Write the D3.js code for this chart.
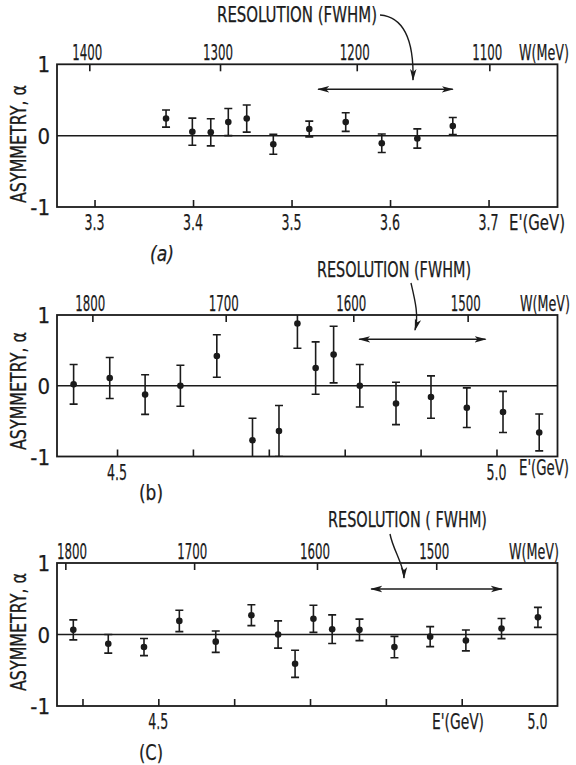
<!DOCTYPE html>
<html>
<head>
<meta charset="utf-8">
<script src="https://cdn.jsdelivr.net/npm/d3@7"></script>
<style>
  body { margin: 0; background: #fff; }
  text { font-family: "Liberation Sans Narrow", "DejaVu Sans Condensed", "Arial Narrow", sans-serif; fill: #1b1b1b; stroke: #1b1b1b; stroke-width: 0.25; }
</style>
</head>
<body>
<div id="graph"></div>
<script>
// Panel (a) : E' (GeV), asymetrie alpha et erreur
var eA = [3.3726, 3.3993, 3.418, 3.4358, 3.4545, 3.4815, 3.518, 3.555, 3.5916, 3.6277, 3.6637];
var alphaA = [0.24, 0.055, 0.046, 0.19, 0.24, -0.12, 0.093, 0.19, -0.107, -0.04, 0.135];
var errA = [0.12, 0.19, 0.19, 0.19, 0.19, 0.14, 0.11, 0.13, 0.13, 0.135, 0.12];
var eTicksA = [3.3, 3.4, 3.5, 3.6, 3.7];
var eLabelsA = [3.3, 3.4, 3.5, 3.6, 3.7];
var wLabelsA = ["1400", "1300", "1200", "1100"];
var wTickEA = [3.2947, 3.4274, 3.5662, 3.7008];   // E' correspondant a chaque W
var resA = [3.527, 3.6637];

// Panel (b)
var eB = [4.4428, 4.4904, 4.537, 4.5835, 4.6315, 4.6785, 4.7134, 4.7377, 4.7617, 4.7854, 4.8199, 4.8676, 4.9137, 4.9609, 5.0086, 5.0563];
var alphaB = [0.02, 0.11, -0.125, 0.0, 0.42, -0.77, -0.64, 0.88, 0.25, 0.44, 0.0, -0.25, -0.16, -0.31, -0.37, -0.66];
var errB = [0.28, 0.29, 0.28, 0.29, 0.3, 0.31, 0.36, 0.35, 0.37, 0.4, 0.3, 0.3, 0.3, 0.28, 0.29, 0.26];
var eTicksB = [4.5, 4.6, 4.7, 4.8, 4.9, 5.0];
var eLabelsB = [4.5, 5.0];
var wLabelsB = ["1800", "1700", "1600", "1500"];
var wTickEB = [4.4675, 4.6432, 4.8113, 4.962];
var resB = [4.8191, 4.9856];

// Panel (c)
var eC = [4.3879, 4.434, 4.4811, 4.5277, 4.5757, 4.6227, 4.6579, 4.6803, 4.7045, 4.7292, 4.7652, 4.8113, 4.8584, 4.9055, 4.9525, 5.0005];
var alphaC = [0.065, -0.13, -0.175, 0.19, -0.10, 0.27, 0.0, -0.41, 0.22, 0.074, 0.065, -0.176, -0.03, -0.083, 0.083, 0.24];
var errC = [0.14, 0.13, 0.12, 0.15, 0.15, 0.146, 0.19, 0.19, 0.19, 0.2, 0.15, 0.15, 0.14, 0.146, 0.14, 0.14];
var eTicksC = [4.4, 4.5, 4.6, 4.7, 4.8, 4.9];
var eLabelsC = [4.5, 5.0];
var wLabelsC = ["1800", "1700", "1600", "1500"];
var wTickEC = [4.3774, 4.5472, 4.7092, 4.8664];
var resC = [4.7806, 4.9530];

var alphaTicks = [1, 0, -1];

// Mise en page
var largeur = 576, hauteur = 765;
var gauche = 57, droite = 557.5;

var panneaux = [
  { haut: 64.3, bas: 207, dom: [3.2619, 3.770], e: eA, alpha: alphaA, err: errA,
    eTicks: eTicksA, eLabels: eLabelsA, wLabels: wLabelsA, wTickE: wTickEA,
    res: resA, resAlpha: 0.65, texteRes: "RESOLUTION (FWHM)", resX: 217, resY: 22, resW: 160,
    pointeur: "M380,15 C404,17 414,40 413,80", nomX: 162, nomY: 261, nom: "(a)", nomItal: true,
    wNomX: 519, eNomX: 509, eNomY: 230, eNomW: 56, titreY: 144 },
  { haut: 315, bas: 456.5, dom: [4.4209, 5.0804], e: eB, alpha: alphaB, err: errB,
    eTicks: eTicksB, eLabels: eLabelsB, wLabels: wLabelsB, wTickE: wTickEB,
    res: resB, resAlpha: 0.656, texteRes: "RESOLUTION (FWHM)", resX: 317, resY: 277, resW: 154,
    pointeur: "M411,283 C415,300 419,316 415,330", nomX: 151, nomY: 500, nom: "(b)", nomItal: false,
    wNomX: 520, eNomX: 519, eNomY: 475, eNomW: 50, titreY: 391 },
  { haut: 563, bas: 706, dom: [4.3664, 5.0263], e: eC, alpha: alphaC, err: errC,
    eTicks: eTicksC, eLabels: eLabelsC, wLabels: wLabelsC, wTickE: wTickEC,
    res: resC, resAlpha: 0.636, texteRes: "RESOLUTION ( FWHM)", resX: 328, resY: 527, resW: 159,
    pointeur: "M390,534 C393,550 404,565 404,578", nomX: 151, nomY: 760, nom: "(C)", nomItal: false,
    wNomX: 509, eNomX: 432, eNomY: 729, eNomW: 52, titreY: 632 }
];

var svg = d3.select("#graph").append("svg")
    .attr("width", largeur)
    .attr("height", hauteur)
    .style("background", "#fff");

// fleches
var defs = svg.append("defs");
defs.append("marker")
    .attr("id", "fleche")
    .attr("viewBox", "0 -4 12 8")
    .attr("refX", 11).attr("refY", 0)
    .attr("markerWidth", 12).attr("markerHeight", 8)
    .attr("markerUnits", "userSpaceOnUse")
    .attr("orient", "auto-start-reverse")
  .append("path")
    .attr("d", "M0,-3.2L12,0L0,3.2L3,0Z")
    .attr("fill", "#1b1b1b");

// largeur imposee (police tres condensee de l'original)
function largeurFixe(sel, w) {
  sel.attr("textLength", w).attr("lengthAdjust", "spacingAndGlyphs");
}

panneaux.forEach(function(p, i) {
  var x = d3.scaleLinear().domain(p.dom).range([gauche, droite]);
  var y = d3.scaleLinear().domain([-1, 1]).range([p.bas, p.haut]);
  var g = svg.append("g");

  defs.append("clipPath").attr("id", "clip" + i)
    .append("rect")
    .attr("x", gauche).attr("y", p.haut)
    .attr("width", droite - gauche).attr("height", p.bas - p.haut);

  // axe du bas (E') : graduations vers l'interieur
  g.append("g")
      .attr("transform", "translate(0," + p.bas + ")")
      .call(d3.axisBottom(x).tickValues(p.eTicks).tickSizeInner(-7).tickSizeOuter(0).tickFormat(""))
      .call(function(a) { a.select(".domain").remove(); })
      .selectAll("line").attr("stroke", "#1b1b1b").attr("stroke-width", 1.6);

  // axe du haut (W)
  g.append("g")
      .attr("transform", "translate(0," + p.haut + ")")
      .call(d3.axisTop(x).tickValues(p.wTickE).tickSizeInner(-7).tickSizeOuter(0).tickFormat(""))
      .call(function(a) { a.select(".domain").remove(); })
      .selectAll("line").attr("stroke", "#1b1b1b").attr("stroke-width", 1.6);

  // axe gauche (alpha) : etiquettes seulement
  g.selectAll(".alab")
    .data(alphaTicks)
    .enter().append("text")
    .attr("x", 50)
    .attr("y", function(d) { return y(d) + 8; })
    .attr("text-anchor", "end")
    .attr("font-size", 22)
    .text(function(d) { return d < 0 ? "-" + Math.abs(d) : d; });

  // cadre
  g.append("rect")
    .attr("x", gauche).attr("y", p.haut)
    .attr("width", droite - gauche).attr("height", p.bas - p.haut)
    .attr("fill", "none").attr("stroke", "#1b1b1b").attr("stroke-width", 1.8);

  // ligne zero
  g.append("line")
    .attr("x1", gauche).attr("x2", droite)
    .attr("y1", y(0)).attr("y2", y(0))
    .attr("stroke", "#1b1b1b").attr("stroke-width", 1.5);

  // etiquettes E'
  g.selectAll(".elab")
    .data(p.eLabels)
    .enter().append("text")
    .attr("x", function(d) { return x(d) - 10; })
    .attr("y", p.bas + 23)
    .attr("font-size", 22)
    .text(d3.format(".1f"))
    .call(largeurFixe, 20);

  // etiquettes W (jamais a gauche du cadre)
  g.selectAll(".wlab")
    .data(p.wLabels)
    .enter().append("text")
    .attr("x", function(d, j) { return Math.max(gauche, x(p.wTickE[j]) - 17); })
    .attr("y", p.haut - 4)
    .attr("font-size", 22)
    .text(function(d) { return d; })
    .call(largeurFixe, 30);

  g.append("text")
    .attr("x", p.wNomX).attr("y", p.haut - 4)
    .attr("font-size", 22)
    .text("W(MeV)")
    .call(largeurFixe, 50);

  g.append("text")
    .attr("x", p.eNomX).attr("y", p.eNomY)
    .attr("font-size", 22)
    .text("E'(GeV)")
    .call(largeurFixe, p.eNomW);

  // titre axe Y
  g.append("text")
    .attr("transform", "translate(26," + p.titreY + ") rotate(-90)")
    .attr("x", -59)
    .attr("font-size", 22)
    .text("ASYMMETRY, \u03b1")
    .call(largeurFixe, 118);

  // barres d'erreur
  var pts = p.e.map(function(d, j) { return { e: d, a: p.alpha[j], s: p.err[j] }; });
  var barres = g.append("g").attr("clip-path", "url(#clip" + i + ")");
  barres.selectAll(".eb")
    .data(pts)
    .enter().append("path")
    .attr("d", function(d) {
      var cx = x(d.e), y1 = y(d.a + d.s), y2 = y(d.a - d.s);
      return "M" + (cx - 4) + "," + y1 + "H" + (cx + 4) +
             "M" + cx + "," + y1 + "V" + y2 +
             "M" + (cx - 4) + "," + y2 + "H" + (cx + 4);
    })
    .attr("fill", "none").attr("stroke", "#1b1b1b").attr("stroke-width", 1.6);

  barres.selectAll(".pt")
    .data(pts)
    .enter().append("circle")
    .attr("cx", function(d) { return x(d.e); })
    .attr("cy", function(d) { return y(d.a); })
    .attr("r", 3.3)
    .attr("fill", "#1b1b1b");

  // fleche de resolution
  g.append("line")
    .attr("x1", x(p.res[0])).attr("x2", x(p.res[1]))
    .attr("y1", y(p.resAlpha)).attr("y2", y(p.resAlpha))
    .attr("stroke", "#1b1b1b").attr("stroke-width", 1.5)
    .attr("marker-start", "url(#fleche)")
    .attr("marker-end", "url(#fleche)");

  g.append("text")
    .attr("x", p.resX).attr("y", p.resY)
    .attr("font-size", 22)
    .text(p.texteRes)
    .call(largeurFixe, p.resW);

  g.append("path")
    .attr("d", p.pointeur)
    .attr("fill", "none").attr("stroke", "#1b1b1b").attr("stroke-width", 1.4)
    .attr("marker-end", "url(#fleche)");

  g.append("text")
    .attr("x", p.nomX - 12).attr("y", p.nomY)
    .attr("font-size", 22)
    .style("font-style", p.nomItal ? "italic" : "normal")
    .text(p.nom)
    .call(largeurFixe, 24);
});
</script>
</body>
</html>
